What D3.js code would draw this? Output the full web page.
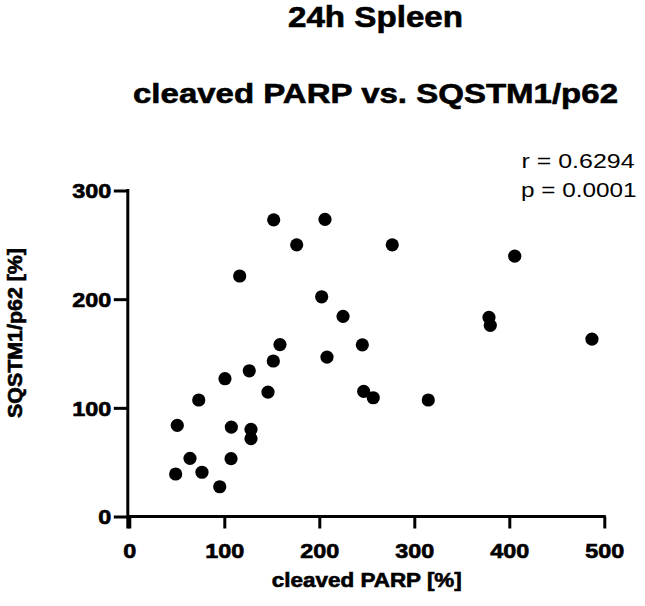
<!DOCTYPE html>
<html><head><meta charset="utf-8">
<script src="https://cdn.jsdelivr.net/npm/d3@7"></script>
<style>
html,body{margin:0;padding:0;background:#fff;}
text{font-family:"Liberation Sans",Arial,Helvetica,sans-serif;fill:#000;}
text.b{font-weight:bold;stroke:#000;stroke-width:0.6px;}
</style></head>
<body>
<svg id="chart" width="645" height="606"></svg>
<script>
// ---- data ----
const cleavedPARP = [48.8, 50.5, 63.9, 73.1, 76.5, 95.2, 100.7, 107.4, 107.1, 116.2,
  126.3, 128.1, 128.1, 146, 151.6, 158.6, 152, 176.2, 206, 202.5,
  225, 208.1, 245.3, 246.7, 256.8, 276.8, 314.7, 378.6, 380, 405.7, 487];
const sqstm1 = [39.1, 83.9, 53.5, 107.2, 40.7, 27.4, 126.8, 82.3, 53.2, 221.3,
  134.1, 80.2, 71.6, 114.5, 143.1, 158.2, 273, 250, 273.4, 202.2,
  184.2, 146.7, 158, 115.2, 109.3, 250, 107.2, 183.3, 175.9, 239.6, 163.3];
const xTicks = [0, 100, 200, 300, 400, 500];
const yTicks = [0, 100, 200, 300];
const titleLines = ["24h Spleen", "cleaved PARP vs. SQSTM1/p62"];
const xLabel = "cleaved PARP [%]";
const yLabel = "SQSTM1/p62 [%]";
const statLines = ["r = 0.6294", "p = 0.0001"];

const svg = d3.select("#chart");
const x = d3.scaleLinear().domain([0, 500]).range([129.3, 604.3]);
const y = d3.scaleLinear().domain([0, 300]).range([516.5, 190.5]);
const SX = 1.2;

// titles
svg.append("text").attr("class", "b").attr("x", 375.5).attr("y", 27).attr("text-anchor", "middle")
  .attr("font-size", 29)
  .attr("textLength", 175).attr("lengthAdjust", "spacingAndGlyphs").text(titleLines[0]);
svg.append("text").attr("class", "b").attr("x", 375.5).attr("y", 103).attr("text-anchor", "middle")
  .attr("font-size", 28)
  .attr("textLength", 485).attr("lengthAdjust", "spacingAndGlyphs").text(titleLines[1]);

// stats
svg.append("text").attr("x", 521.5).attr("y", 168.3).attr("font-size", 19.5)
  .attr("textLength", 113).attr("lengthAdjust", "spacingAndGlyphs").text(statLines[0]);
svg.append("text").attr("x", 521).attr("y", 197.3).attr("font-size", 19.5)
  .attr("textLength", 115.5).attr("lengthAdjust", "spacingAndGlyphs").text(statLines[1]);

// x axis
const gx = svg.append("g").attr("transform", `translate(0,${y(0)})`)
  .call(d3.axisBottom(x).tickValues(xTicks).tickSize(12).tickSizeOuter(0).tickFormat(d3.format("d")));
gx.attr("font-family", null);
gx.select(".domain").attr("stroke", "#000").attr("stroke-width", 3)
  .attr("d", `M${x(0) - 1.5},0H${x(500) + 1.5}`);
gx.selectAll(".tick line").attr("stroke", "#000").attr("stroke-width", 3);
gx.selectAll(".tick text").attr("class", "b").attr("font-size", 19.5)
  .attr("fill", "#000")
  .attr("y", null).attr("dy", null)
  .attr("transform", `translate(0,41.8) scale(${SX},1)`);

// y axis
const gy = svg.append("g").attr("transform", `translate(${x(0) - 1.5},0)`)
  .call(d3.axisLeft(y).tickValues(yTicks).tickSize(14).tickSizeOuter(0).tickFormat(d3.format("d")));
gy.attr("font-family", null);
gy.select(".domain").attr("stroke", "#000").attr("stroke-width", 3)
  .attr("d", `M0,${y(300) - 1.5}V${y(0) + 12}`);
gy.selectAll(".tick line").attr("stroke", "#000").attr("stroke-width", 3);
gy.selectAll(".tick text").attr("class", "b").attr("font-size", 19.5)
  .attr("fill", "#000")
  .attr("x", 0).attr("dy", "0.38em")
  .attr("transform", `translate(-16.5,0) scale(${SX},1)`);

// axis labels
svg.append("text").attr("class", "b").attr("x", 366.8).attr("y", 586.7).attr("text-anchor", "middle")
  .attr("font-size", 19.5)
  .attr("textLength", 190).attr("lengthAdjust", "spacingAndGlyphs").text(xLabel);
svg.append("text").attr("class", "b").attr("transform", "translate(21.5,333) rotate(-90)").attr("text-anchor", "middle")
  .attr("font-size", 19.5)
  .attr("textLength", 170).attr("lengthAdjust", "spacingAndGlyphs").text(yLabel);

// points
svg.append("g").selectAll("circle").data(cleavedPARP.map((d, i) => [d, sqstm1[i]]))
  .join("circle").attr("cx", d => x(d[0])).attr("cy", d => y(d[1])).attr("r", 6.6).attr("fill", "#000");
</script>
</body></html>
